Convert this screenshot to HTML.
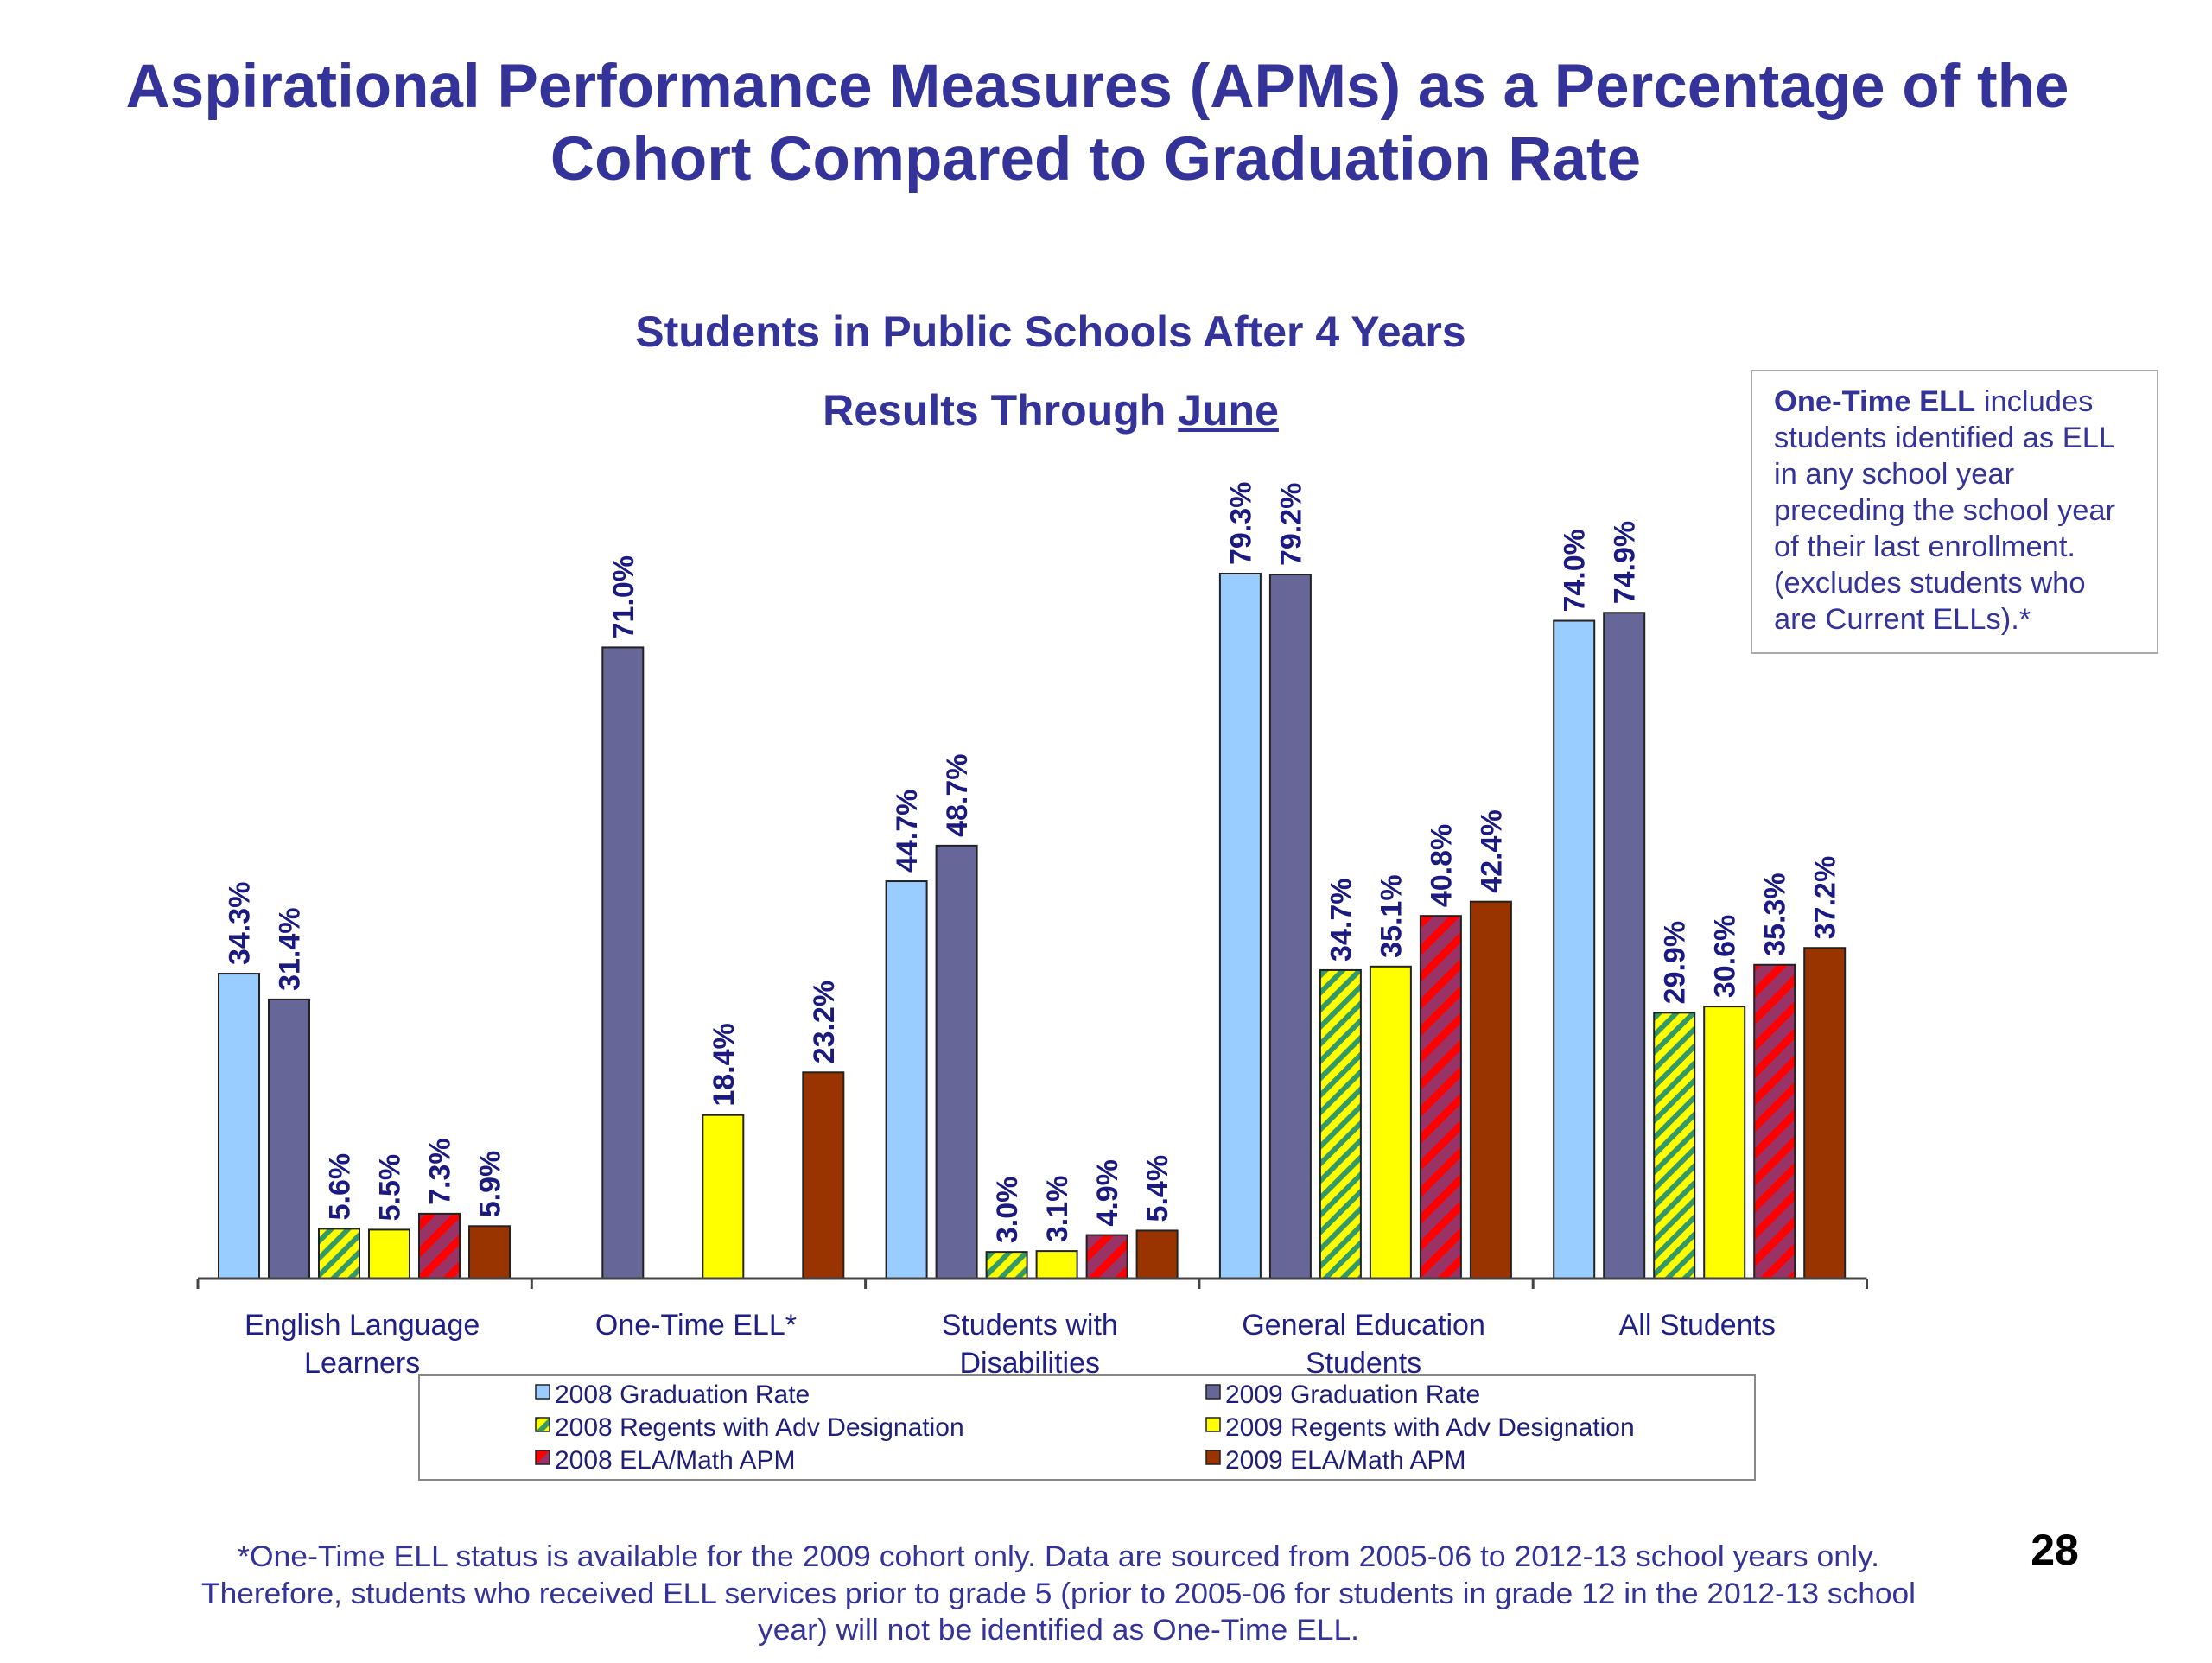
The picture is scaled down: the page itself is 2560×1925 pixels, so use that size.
<!DOCTYPE html>
<html><head><meta charset="utf-8"><style>
html,body{margin:0;padding:0;background:#fff;}
body{width:2560px;height:1920px;overflow:hidden;font-family:"Liberation Sans",sans-serif;}
</style></head><body>
<svg id="chart" width="2560" height="1920" xmlns="http://www.w3.org/2000/svg">
<defs>
<pattern id="hatchGreen" patternUnits="userSpaceOnUse" width="14" height="14" patternTransform="rotate(45)">
<rect width="14" height="14" fill="#ffff00"/><rect width="6" height="14" fill="#339966"/></pattern>
<pattern id="hatchRed" patternUnits="userSpaceOnUse" width="22" height="22" patternTransform="rotate(45)">
<rect width="22" height="22" fill="#993366"/><rect width="9" height="22" fill="#ff0000"/></pattern>
</defs>
<g font-weight="bold" fill="#333399" font-size="71" text-anchor="middle">
<text x="1270" y="124">Aspirational Performance Measures (APMs) as a Percentage of the</text>
<text x="1268" y="208">Cohort Compared to Graduation Rate</text>
</g>
<text x="1216" y="401" font-size="50" font-weight="bold" fill="#333399" text-anchor="middle">Students in Public Schools After 4 Years</text>
<text x="1216" y="492" font-size="50" font-weight="bold" fill="#333399" text-anchor="middle">Results Through <tspan text-decoration="underline">June</tspan></text>
<g>
<rect x="2027" y="429" width="470" height="327" fill="#fff" stroke="#aaa" stroke-width="2"/>
<g font-size="34.5" fill="#333399">
<text x="2053" y="476"><tspan font-weight="bold">One-Time ELL</tspan> includes</text>
<text x="2053" y="518">students identified as ELL</text>
<text x="2053" y="560">in any school year</text>
<text x="2053" y="602">preceding the school year</text>
<text x="2053" y="644">of their last enrollment.</text>
<text x="2053" y="686">(excludes students who</text>
<text x="2053" y="728">are Current ELLs).*</text>
</g></g>
<g id="plot"></g>
<g>
<rect x="485" y="1592" width="1546" height="121" fill="#fff" stroke="#888" stroke-width="2"/>
<g id="legendItems" font-size="30" fill="#1f1f7a"></g>
</g>
<g font-size="34" fill="#333399" text-anchor="middle">
<text x="1225" y="1813" textLength="1900" lengthAdjust="spacingAndGlyphs">*One-Time ELL status is available for the 2009 cohort only.  Data are sourced from 2005-06 to 2012-13 school years only.</text>
<text x="1225" y="1856" textLength="1984" lengthAdjust="spacingAndGlyphs">Therefore, students who received ELL services prior to grade 5 (prior to 2005-06 for students in grade 12 in the 2012-13 school</text>
<text x="1225" y="1898" textLength="696" lengthAdjust="spacingAndGlyphs">year) will not be identified as One-Time ELL.</text>
</g>
<text x="2378" y="1811" font-size="50" font-weight="bold" fill="#000" text-anchor="middle">28</text>
</svg>
<script>
const categories = [["English Language","Learners"],["One-Time ELL*"],["Students with","Disabilities"],["General Education","Students"],["All Students"]];
const seriesNames = ["2008 Graduation Rate","2009 Graduation Rate","2008 Regents with Adv Designation","2009 Regents with Adv Designation","2008 ELA/Math APM","2009 ELA/Math APM"];
const grad2008 = [34.3, null, 44.7, 79.3, 74.0];
const grad2009 = [31.4, 71.0, 48.7, 79.2, 74.9];
const regents2008 = [5.6, null, 3.0, 34.7, 29.9];
const regents2009 = [5.5, 18.4, 3.1, 35.1, 30.6];
const apm2008 = [7.3, null, 4.9, 40.8, 35.3];
const apm2009 = [5.9, 23.2, 5.4, 42.4, 37.2];
const series = [grad2008, grad2009, regents2008, regents2009, apm2008, apm2009];
const fills = ["#99ccff","#666699","url(#hatchGreen)","#ffff00","url(#hatchRed)","#993300"];
const NS="http://www.w3.org/2000/svg";
const axisY=1480, pxPerPct=10.29, x0=229, groupW=386.3, barOff=24, barStep=58, barW=47;
function yScale(v){return axisY - v*pxPerPct;}
function xBar(g,s){return x0 + g*groupW + barOff + s*barStep;}
const plot=document.getElementById('plot');
function mk(tag,attrs){const e=document.createElementNS(NS,tag);for(const k in attrs)e.setAttribute(k,attrs[k]);return e;}
series.forEach((vals,s)=>{vals.forEach((v,g)=>{
  if(v===null)return;
  const x=xBar(g,s), y=yScale(v);
  const r=mk('rect',{x:x,y:y,width:barW,height:axisY-y,fill:fills[s],stroke:'#222','stroke-width':2});
  
  
  plot.appendChild(r);
  const cx=x+barW/2+12, ty=y-10;
  const t=mk('text',{x:cx,y:ty,transform:`rotate(-90 ${cx} ${ty})`,'font-size':34,'font-weight':'bold',fill:'#1a1a80'});
  t.textContent=v.toFixed(1)+'%';
  
  
  plot.appendChild(t);
});});
const ax=mk('line',{x1:x0,y1:axisY,x2:x0+5*groupW,y2:axisY,stroke:'#444','stroke-width':3});


plot.appendChild(ax);
for(let i=0;i<=5;i++){const tx=x0+i*groupW;const tk=mk('line',{x1:tx,y1:axisY,x2:tx,y2:axisY+12,stroke:'#444','stroke-width':3});


plot.appendChild(tk);}
categories.forEach((lines,g)=>{lines.forEach((ln,i)=>{
  const t=mk('text',{x:x0+g*groupW+groupW/2-3,y:1545+i*44,'font-size':34,fill:'#1f1f8a','text-anchor':'middle'});
  t.textContent=ln;
  
  
  plot.appendChild(t);
});});
const li=document.getElementById('legendItems');
seriesNames.forEach((n,i)=>{
  const col=i%2, row=Math.floor(i/2);
  const lx=col?1396:620, ly=1624+row*38;
  const sw=mk('rect',{x:lx,y:ly-21,width:16,height:16,fill:fills[i],stroke:'#222','stroke-width':1.5});
  
  
  li.appendChild(sw);
  const t=mk('text',{x:lx+22,y:ly});
  t.textContent=n;
  
  
  li.appendChild(t);
});
</script>
</body></html>
